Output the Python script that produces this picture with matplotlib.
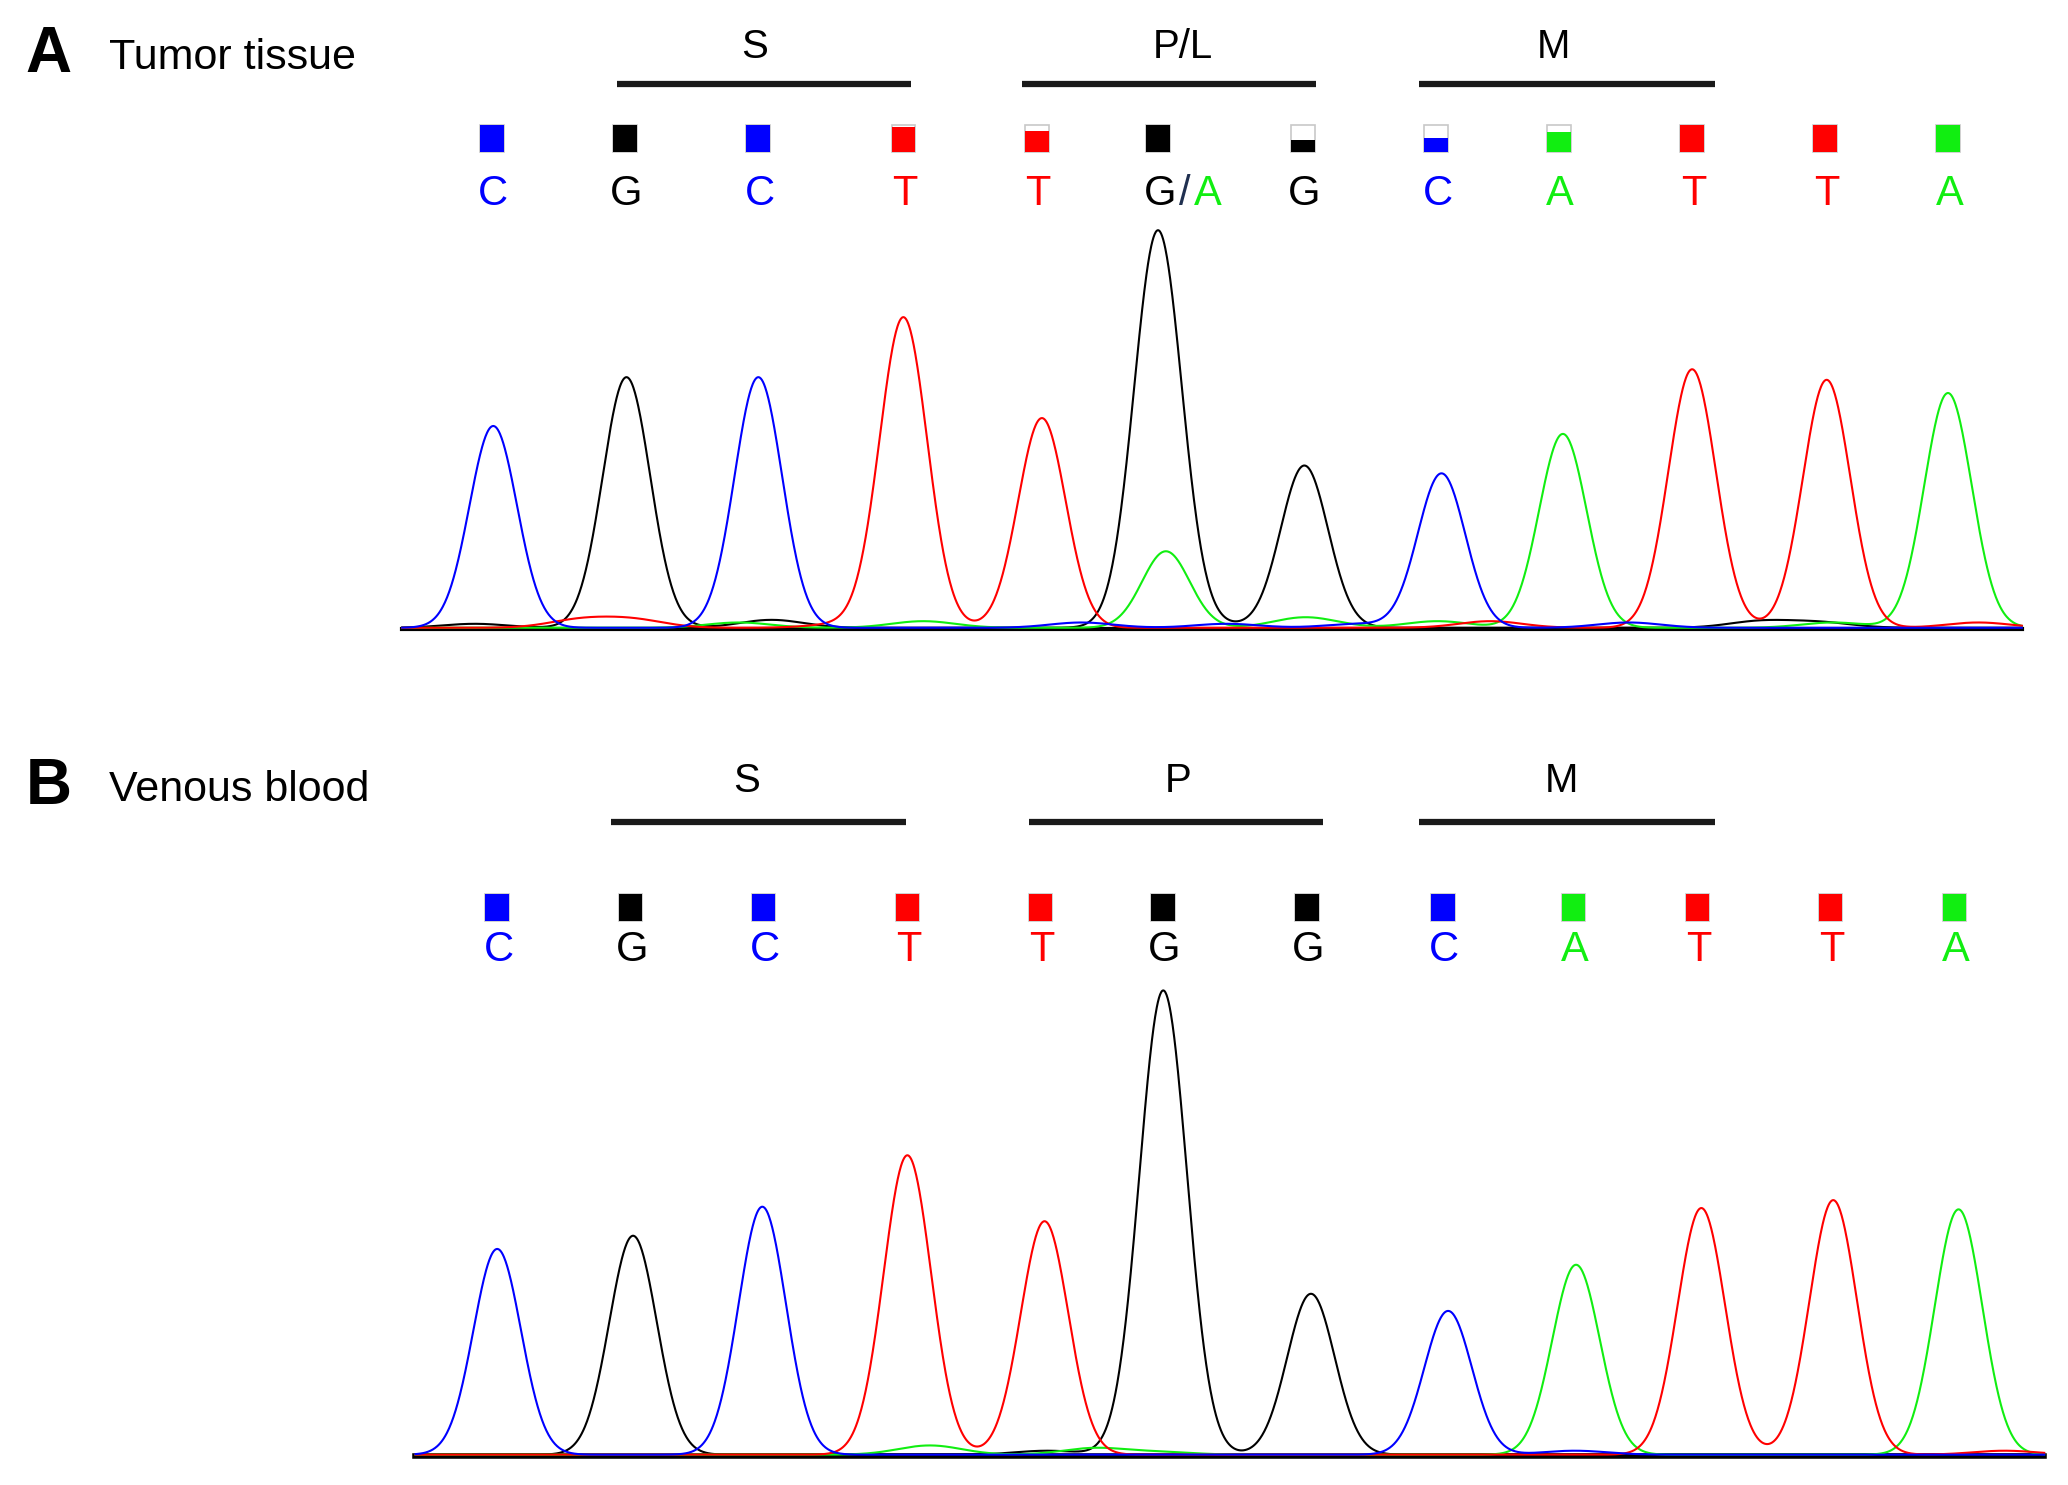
"""Sanger trace comparison: tumor tissue vs venous blood around the S-P/L-M codons."""
import matplotlib
matplotlib.use("Agg")
import matplotlib.pyplot as plt
from matplotlib import font_manager
from matplotlib.patches import Rectangle
import numpy as np

# ---- data -----------------------------------------------------------------
calls_a = ["C", "G", "C", "T", "T", "G/A", "G", "C", "A", "T", "T", "A"]
calls_b = ["C", "G", "C", "T", "T", "G", "G", "C", "A", "T", "T", "A"]

# base-call positions (scan units) for boxes / letters
call_pos_a = [373, 474, 575, 685, 786, 878, 988, 1089, 1182, 1283, 1384, 1477]
call_pos_b = [377, 478, 579, 688, 789, 882, 991, 1094, 1193, 1287, 1388, 1482]

# quality bar fill fraction
qual_a = [1, 1, 1, 0.92, 0.78, 1, 0.45, 0.5, 0.75, 1, 1, 1]
qual_b = [1] * 12

# main peaks: channel, position, height
peak_ch_a = ["C", "G", "C", "T", "T", "G", "G", "C", "A", "T", "T", "A"]
peak_pos_a = [374, 475, 575, 685, 790, 878, 989, 1093, 1185, 1283, 1385, 1477]
peak_h_a = [153, 190, 190, 235, 159, 301, 123, 117, 147, 196, 188, 178]

peak_ch_b = ["C", "G", "C", "T", "T", "G", "G", "C", "A", "T", "T", "A"]
peak_pos_b = [377, 480, 578, 688, 792, 882, 994, 1098, 1195, 1290, 1390, 1485]
peak_h_b = [156, 166, 188, 227, 177, 352, 122, 109, 144, 187, 193, 186]

# minor / background peaks: channel, position, height
minor_ch_a = ["A", "G", "G", "T", "T", "T", "A", "G", "A", "C", "C", "A", "A",
              "T", "G", "C", "T", "A", "G", "C"]
minor_pos_a = [884, 360, 585, 440, 480, 1130, 700, 1335, 990, 820, 930, 1090, 560,
               1500, 1380, 1235, 640, 1390, 920, 1030]
minor_h_a = [58, 3, 6, 6, 6, 5, 5, 5, 8, 4, 3, 5, 4,
             4, 4, 4, 3, 4, 2, 3]

minor_ch_b = ["A", "A", "A", "G", "C", "T"]
minor_pos_b = [705, 830, 880, 794, 1194, 1520]
minor_h_b = [7, 5, 2, 3, 3, 3]

# codon bars: label, start, end, label position (scan units)
codon_a = ["S", "P/L", "M"]
codon_start_a = [468, 775, 1076]
codon_end_a = [691, 998, 1300]
codon_lab_a = [572, 897, 1178]
codon_b = ["S", "P", "M"]
codon_start_b = [463, 780, 1076]
codon_end_b = [687, 1003, 1300]
codon_lab_b = [566, 893, 1184]

COLORS = {"C": "#0000ff", "G": "#000000", "T": "#ff0000", "A": "#11ee11"}

names = {f.name for f in font_manager.fontManager.ttflist}
FONT = "Liberation Sans Narrow" if "Liberation Sans Narrow" in names else "Liberation Sans"
plt.rcParams["font.family"] = [FONT, "DejaVu Sans"]

fig = plt.figure(figsize=(20.68, 14.85), dpi=100)
ax = fig.add_axes([0, 0, 1, 1])
ax.set_xlim(0, 1568)
ax.set_ylim(1126, 0)
ax.axis("off")


def trace(pos, h, sigma, x):
    return h * np.exp(-0.5 * ((x - pos) / sigma) ** 2)


def panel(letter, title, ty, calls, call_pos, qual, pch, ppos, ph, mch, mpos, mh,
          cnames, cstart, cend, clab, base_y, x0, x1, box_top, letter_y, bar_y, lab_y,
          base_lw):
    ax.text(37, ty, letter, fontsize=46, fontweight="bold", ha="center", va="center",
            family=["Liberation Sans", "DejaVu Sans"])
    ax.text(83, ty + 2, title, fontsize=31, ha="left", va="center")

    # codon bars
    for name, xa, xb, xl in zip(cnames, cstart, cend, clab):
        ax.plot([xa, xb], [bar_y, bar_y], color="#1a1a1a", lw=4.5, solid_capstyle="butt")
        ax.text(xl, lab_y, name, fontsize=29, ha="center", va="center")

    # quality boxes and base letters
    bw, bh = 18, 20
    for c, xp, q in zip(calls, call_pos, qual):
        col = COLORS[c[0]]
        ax.add_patch(Rectangle((xp - bw / 2, box_top), bw, bh, facecolor="white",
                               edgecolor="#c8c8c8", lw=1.2))
        ax.add_patch(Rectangle((xp - bw / 2, box_top + bh * (1 - q)), bw, bh * q,
                               facecolor=col, edgecolor="none"))
        if "/" in c:
            a, b = c.split("/")
            ax.text(xp + 2, letter_y, a, fontsize=30, color=COLORS[a], ha="center", va="center")
            ax.text(xp + 20, letter_y, "/", fontsize=30, color="#203050", ha="center", va="center")
            ax.text(xp + 38, letter_y, b, fontsize=30, color=COLORS[b], ha="center", va="center")
        else:
            ax.text(xp + 1, letter_y, c, fontsize=30, color=col, ha="center", va="center")

    # traces
    x = np.linspace(x0, x1, 3000)
    ax.plot([x0, x1], [base_y + 1, base_y + 1], color="black", lw=base_lw, zorder=1)
    for ch in ["G", "A", "T", "C"]:
        y = np.zeros_like(x)
        for c, p, hh in zip(pch, ppos, ph):
            if c == ch:
                y += trace(p, hh, 18, x)
        for c, p, hh in zip(mch, mpos, mh):
            if c == ch:
                y += trace(p, hh, 18 if hh > 20 else 24, x)
        ax.plot(x, base_y - y, color=COLORS[ch], lw=1.5, zorder=2)


panel("A", "Tumor tissue", 42, calls_a, call_pos_a, qual_a, peak_ch_a, peak_pos_a,
      peak_h_a, minor_ch_a, minor_pos_a, minor_h_a, codon_a, codon_start_a, codon_end_a,
      codon_lab_a, base_y=476, x0=305, x1=1533, box_top=95, letter_y=147, bar_y=64,
      lab_y=36, base_lw=3)
panel("B", "Venous blood", 597, calls_b, call_pos_b, qual_b, peak_ch_b, peak_pos_b,
      peak_h_b, minor_ch_b, minor_pos_b, minor_h_b, codon_b, codon_start_b, codon_end_b,
      codon_lab_b, base_y=1103, x0=315, x1=1550, box_top=678, letter_y=720, bar_y=623,
      lab_y=592, base_lw=4)

fig.savefig("out.png", dpi=100)
